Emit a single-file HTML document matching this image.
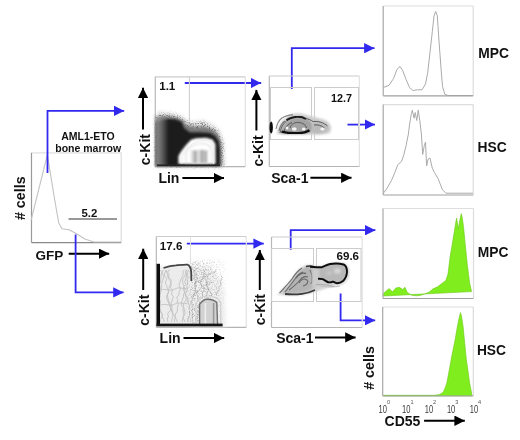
<!DOCTYPE html>
<html><head><meta charset="utf-8">
<style>
html,body{margin:0;padding:0;background:#fff;width:520px;height:440px;overflow:hidden}
svg{display:block;filter:blur(0.5px)}
text{font-family:"Liberation Sans",sans-serif;font-weight:bold;fill:#111}
</style></head><body>
<svg width="520" height="440" viewBox="0 0 520 440">
<defs>
<marker id="bh" viewBox="0 0 10 10" refX="10" refY="5" markerWidth="10.6" markerHeight="10.4" markerUnits="userSpaceOnUse" orient="auto"><path d="M0,0L10,5L0,10z" fill="#3229ef"/></marker>
<marker id="kh" viewBox="0 0 10 10" refX="10" refY="5" markerWidth="10.4" markerHeight="10.4" markerUnits="userSpaceOnUse" orient="auto"><path d="M0,0L10,5L0,10z" fill="#000"/></marker>
<filter id="b1" x="-20%" y="-20%" width="140%" height="140%"><feGaussianBlur stdDeviation="1"/></filter>
<filter id="b06" x="-20%" y="-20%" width="140%" height="140%"><feGaussianBlur stdDeviation="0.6"/></filter>
<filter id="b08" x="-20%" y="-20%" width="140%" height="140%"><feGaussianBlur stdDeviation="0.8"/></filter>
<filter id="b15" x="-20%" y="-20%" width="140%" height="140%"><feGaussianBlur stdDeviation="1.5"/></filter>
<filter id="b2" x="-20%" y="-20%" width="140%" height="140%"><feGaussianBlur stdDeviation="2"/></filter>
<linearGradient id="lg1" x1="0" y1="0" x2="1" y2="0"><stop offset="0" stop-color="#9a9a9a" stop-opacity="0.9"/><stop offset="0.45" stop-color="#8a8a8a" stop-opacity="0.65"/><stop offset="1" stop-color="#888" stop-opacity="0"/></linearGradient>
<filter id="stip" x="-10%" y="-10%" width="120%" height="120%" color-interpolation-filters="sRGB">
<feGaussianBlur in="SourceGraphic" stdDeviation="2" result="sb"/>
<feTurbulence type="fractalNoise" baseFrequency="0.85" numOctaves="2" seed="4" result="n"/>
<feColorMatrix in="n" type="matrix" values="0 0 0 0 0  0 0 0 0 0  0 0 0 0 0  0 0 0 -5 2.6" result="m"/>
<feComposite in="sb" in2="m" operator="in"/>
<feGaussianBlur stdDeviation="0.4"/>
</filter>
<linearGradient id="lg2" x1="0" y1="0" x2="1" y2="0"><stop offset="0" stop-color="#555" stop-opacity="0.36"/><stop offset="0.75" stop-color="#666" stop-opacity="0.24"/><stop offset="1" stop-color="#888" stop-opacity="0"/></linearGradient>
</defs>

<!-- GFP histogram -->
<g fill="none" stroke-width="1.2"><path d="M31.5,152.8H121.2" stroke="#e0e0e0"/><path d="M121.2,152.8V242.6" stroke="#dcdcdc"/><path d="M31.5,152.8V242.6" stroke="#9a9a9a"/><path d="M31.5,242.6H121.2" stroke="#8a8a8a"/></g>
<polyline stroke-linejoin="round" points="31,220.7 47.3,154.8 54,195.7 58.7,223 62,228.7 69,229.8 75.7,233.2 84.8,239 94,242 121,242" fill="none" stroke="#c2c2c2" stroke-width="1.1"/>
<line x1="68.5" y1="219" x2="117" y2="219" stroke="#777" stroke-width="1.5"/>
<text x="89.4" y="217" font-size="11.4" text-anchor="middle">5.2</text>
<text transform="translate(25.2,198.2) rotate(-90)" font-size="14.3" text-anchor="middle">#&#160;cells</text>
<text x="35.4" y="259.7" font-size="13.5">GFP</text>
<line x1="68.7" y1="253.7" x2="109.2" y2="253.7" stroke="#000" stroke-width="2" marker-end="url(#kh)"/>
<text x="88" y="139.6" font-size="10.5" text-anchor="middle">AML1-ETO</text>
<text x="88.2" y="151.7" font-size="10.5" text-anchor="middle">bone marrow</text>

<!-- blue arrows -->
<g fill="none" stroke="#3229ef" stroke-width="1.8">
<polyline points="47.5,173 47.5,110.8 124.2,110.8" marker-end="url(#bh)"/>
<polyline points="75.6,234.5 75.6,292.4 123.6,292.4" marker-end="url(#bh)"/>
<polyline points="184.8,83 261.2,83" marker-end="url(#bh)"/>
<polyline points="291.8,89 291.8,48.2 374.5,48.2" marker-end="url(#bh)"/>
<polyline points="347.5,124.6 375,124.6" marker-end="url(#bh)"/>
<polyline points="186.8,243.6 263.8,243.6" marker-end="url(#bh)"/>
<polyline points="290.7,249.7 290.7,230.2 375.4,230.2" marker-end="url(#bh)"/>
<polyline points="340.6,293.5 340.6,320.3 375.2,320.3" marker-end="url(#bh)"/>
</g>

<!-- top scatter 1 -->
<g fill="none" stroke-width="1.2"><path d="M155.3,76.8H245.3" stroke="#cccccc"/><path d="M245.3,76.8V166.6" stroke="#e2e2e2"/><path d="M155.3,76.8V166.6" stroke="#b8b8b8"/><path d="M155.3,166.6H245.3" stroke="#b4b4b4"/></g>
<!-- blob top scatter 1 -->
<g>
<path d="M156,166 L156,114 161,112.5 172,113.5 181,116.5 187,121 193,122.5 203,121 212,125 219,131 223,142 224,166 Z" fill="#e0e0e0" filter="url(#b2)"/>
<path d="M156,166 L156,115 161,113.5 172,114.5 181,117.5 187,122 193,123.5 203,122 212,126 218.5,132 222.5,142.5 223.5,166 Z" fill="#333" opacity="0.75" filter="url(#stip)"/>
<path d="M156,166 L156,118 163,116 172,116.5 181,119 187,125 195,127 205,126.5 213,129.5 218.5,135 221.5,144 222,166 Z" fill="#7a7a7a" filter="url(#b15)"/>
<path d="M156,166 L156,122 162,120 168,119 176,119.5 181.5,122 184,128 190,132.5 200,132.5 210,133 215,136 218.5,141 219.8,150 219.8,166 Z" fill="#1a1a1a" filter="url(#b1)"/>
<rect x="155.8" y="117" width="13" height="49" fill="url(#lg1)" filter="url(#b1)"/>
<path d="M178.4,164 L178.4,156 181,151.5 186,145 191,139.8 196,138.2 206,137.8 212.5,139.5 215.4,144 215.6,164 Z" fill="#fff" filter="url(#b08)"/>
<path d="M186,164 L186,152 190,147 196,144 205,143.5 210,146 212,152 212,164 Z" fill="none" stroke="#dcdcdc" stroke-width="1.2" filter="url(#b08)"/>
<path d="M182,164 L182,156 186,150 192,144 198,141 206,140.5 211,142.5 213.5,148 213.5,164" fill="none" stroke="#ececec" stroke-width="1" filter="url(#b06)"/>
<rect x="191" y="150" width="17" height="13" fill="#d8d8d8" filter="url(#b1)"/>
<g fill="#999" filter="url(#b08)"><rect x="194.3" y="151" width="1.8" height="12"/><rect x="201" y="150" width="1.8" height="13"/><rect x="204.5" y="151" width="1.6" height="12"/></g>
<line x1="157" y1="165.2" x2="220" y2="165.2" stroke="#222" stroke-width="1.6"/>
</g>
<line x1="189.4" y1="76.8" x2="189.4" y2="121" stroke="#cfcfcf" stroke-width="1.1"/>
<text x="159.2" y="90.2" font-size="11.6">1.1</text>
<text transform="translate(149.7,149.6) rotate(-90)" font-size="14" text-anchor="middle">c-Kit</text>
<line x1="143" y1="129.5" x2="143" y2="87.8" stroke="#000" stroke-width="2" marker-end="url(#kh)"/>
<text x="158.4" y="183" font-size="14">Lin</text>
<line x1="182.4" y1="178.1" x2="224" y2="178.1" stroke="#000" stroke-width="2" marker-end="url(#kh)"/>

<!-- top scatter 2 -->
<g fill="none" stroke-width="1.2"><path d="M269.3,76H359.4" stroke="#cccccc"/><path d="M359.4,76V166.5" stroke="#e2e2e2"/><path d="M269.3,76V166.5" stroke="#b8b8b8"/><path d="M269.3,166.5H359.4" stroke="#b4b4b4"/></g>
<rect x="270.5" y="87.5" width="41" height="52" fill="none" stroke="#ccc" stroke-width="1"/>
<rect x="314.5" y="87.5" width="44" height="52" fill="none" stroke="#ccc" stroke-width="1"/>
<!-- blob top scatter 2 -->
<g>
<path d="M277,134 C277.5,127 282,119 290,115 C295,113 302,113 308,115.5 C314,117 322,118.5 327,121 C331,124 332,129 330,132.5 C327,134.5 320,134.5 312,134.5 Z" fill="#cdcdcd" filter="url(#b1)"/>
<path d="M281,133.5 C282,127 286,121 292,118.5 C298,117 304,117.5 309,120 C312,122 313,127 312,131 C309,134 300,134 290,134 Z" fill="#a2a2a2" filter="url(#b08)"/>
<path d="M313,122 C319,121.5 325,123 328,126.5 C329.5,130 326,133 318,133.5 L312,133 Z" fill="#bababa" filter="url(#b08)"/>
<g fill="none" stroke="#5a5a5a" stroke-width="1" filter="url(#b06)">
<path d="M280,133 C281,126 285,121 290,119"/>
<path d="M284,132 C285,127 288,124 292,122.5"/>
<path d="M290,128 C291,124 295,122 299,122.5 C303,123 306,125 306.5,128"/>
<path d="M305.5,118.5 C308.5,119 311,120 313,121.5 C318,121 324,122.5 327.5,126"/>
<path d="M314,125 C318,124.5 322,125.5 324.5,128"/>
</g>
<g fill="#f4f4f4" filter="url(#b06)"><ellipse cx="294.3" cy="129" rx="2.4" ry="1.8"/><ellipse cx="303.7" cy="129" rx="1.8" ry="1.6"/><ellipse cx="322.5" cy="129" rx="2.2" ry="1.6"/><ellipse cx="287" cy="128" rx="1.5" ry="1.5"/></g>
<path d="M286.5,120.2 C289,118.4 293,117.2 297,116.8 C300.5,116.6 303.5,117.4 306,119" fill="none" stroke="#1a1a1a" stroke-width="2" filter="url(#b06)"/>
<path d="M276,129 C277,124 279,120 282,118 C285,116 289,115 293,114.6" fill="none" stroke="#888" stroke-width="1.1" filter="url(#b06)"/>
<path d="M279,131 C280,126 282,123 285,121" fill="none" stroke="#777" stroke-width="1.1" filter="url(#b06)"/>
<path d="M281.5,131.6 C286,132.8 292,133.4 298,133.2 C302,133 306,132.4 309.5,130.2" fill="none" stroke="#0d0d0d" stroke-width="2.4" filter="url(#b06)"/>
<ellipse cx="271.2" cy="127.5" rx="1.7" ry="6" fill="#111" filter="url(#b06)"/>
</g>
<text x="331" y="102" font-size="11.8" textLength="21" lengthAdjust="spacingAndGlyphs">12.7</text>
<text transform="translate(262.8,151) rotate(-90)" font-size="14" text-anchor="middle">c-Kit</text>
<line x1="256.4" y1="130.5" x2="256.4" y2="89.9" stroke="#000" stroke-width="2" marker-end="url(#kh)"/>
<text x="271.2" y="183.4" font-size="14">Sca-1</text>
<line x1="310.4" y1="177.8" x2="351.5" y2="177.8" stroke="#000" stroke-width="2" marker-end="url(#kh)"/>

<!-- bottom scatter 1 -->
<g fill="none" stroke-width="1.2"><path d="M156.3,236.5H246.3" stroke="#cccccc"/><path d="M246.3,236.5V327.3" stroke="#e2e2e2"/><path d="M156.3,236.5V327.3" stroke="#b8b8b8"/><path d="M156.3,327.3H246.3" stroke="#b4b4b4"/></g>
<!-- blob bottom scatter 1 -->
<g>
<path d="M157,326 L157,266 165,266 176,265 186,265 190,268 191,276 191,282 L218,296 L224,326 Z" fill="#ececec" filter="url(#b1)"/>
<path d="M190,262 L206,266 217,274 224,288 226,326 L190,326 Z" fill="#f0f0f0" filter="url(#b2)"/>
<g fill="none" stroke="#c2c2c2" stroke-width="0.9" filter="url(#b06)">
<path d="M160.7,322.0 Q158.5,319.8 161.5,317.5 Q163.3,315.4 161.7,313.3 Q160.6,310.8 160.0,308.2 Q158.2,305.5 160.0,302.7 Q158.1,300.1 160.0,297.4 Q159.0,295.3 160.0,293.1 Q161.6,289.9 160.0,286.7 Q158.4,284.3 160.6,282.0 Q161.0,278.6 161.0,275.1 Q161.7,272.6 163.4,270.0"/>
<path d="M164.2,322.0 Q163.8,319.2 162.0,316.4 Q163.3,314.3 160.5,312.2 Q158.8,309.2 160.2,306.1 Q160.1,303.7 160.6,301.2 Q158.3,298.5 160.0,295.8 Q160.8,292.6 161.0,289.5 Q162.3,287.1 161.4,284.7 Q161.7,281.9 163.2,279.1 Q165.1,276.0 162.2,273.0 Q161.3,271.5 160.3,270.0"/>
<path d="M168.1,322.0 Q166.2,319.1 168.5,316.2 Q166.3,313.5 170.2,310.8 Q171.6,307.4 170.1,304.0 Q168.2,301.0 167.9,298.0 Q166.6,295.0 168.6,291.9 Q168.1,288.4 170.2,284.9 Q172.1,282.5 169.7,280.1 Q167.6,277.1 167.3,274.1 Q167.0,272.0 165.6,270.0"/>
<path d="M171.3,322.0 Q172.2,318.7 172.9,315.3 Q173.0,312.1 171.8,308.8 Q172.4,306.1 171.1,303.5 Q171.9,300.2 173.4,296.9 Q171.1,294.6 171.7,292.4 Q173.7,290.1 170.4,287.7 Q171.8,285.0 170.8,282.3 Q172.7,279.9 168.4,277.5 Q169.9,274.8 167.7,272.2 Q167.2,271.1 170.0,270.0"/>
<path d="M174.4,322.0 Q174.3,319.8 175.1,317.7 Q175.0,315.6 172.9,313.5 Q170.9,311.2 171.3,308.9 Q169.3,306.4 169.0,303.9 Q168.2,301.9 167.3,299.9 Q166.1,297.7 166.6,295.6 Q168.2,293.5 168.5,291.5 Q166.8,288.6 166.7,285.6 Q164.3,283.3 165.9,280.9 Q168.2,278.3 164.1,275.8 Q164.2,272.9 166.5,270.0"/>
<path d="M177.4,322.0 Q176.1,319.2 175.1,316.4 Q175.2,313.6 177.5,310.8 Q176.7,307.5 178.4,304.2 Q176.1,301.8 177.8,299.4 Q175.4,297.2 179.1,294.9 Q178.0,292.1 180.5,289.3 Q179.3,286.8 179.1,284.3 Q180.1,281.1 181.6,277.9 Q183.9,274.6 183.1,271.3 Q182.8,270.7 184.3,270.0"/>
<path d="M182.1,322.0 Q182.0,318.5 184.4,315.0 Q182.8,312.5 183.0,309.9 Q184.4,307.6 181.5,305.3 Q180.6,303.0 182.1,300.6 Q183.6,297.3 183.8,293.9 Q186.1,291.2 184.5,288.5 Q184.0,285.3 182.5,282.1 Q182.0,279.1 184.5,276.1 Q186.8,273.1 185.8,270.0"/>
<path d="M185.2,322.0 Q183.7,319.7 183.3,317.5 Q182.1,315.3 185.3,313.0 Q184.3,309.8 183.6,306.6 Q182.3,303.4 186.0,300.1 Q186.4,297.2 185.2,294.2 Q184.0,291.3 183.4,288.5 Q183.0,286.5 185.7,284.5 Q183.9,281.5 185.8,278.5 Q187.9,275.1 185.5,271.7 Q184.8,270.9 187.1,270.0"/>
<path d="M188.1,322.0 Q186.2,319.1 189.5,316.2 Q189.8,313.6 189.5,311.0 Q188.2,308.2 189.5,305.5 Q188.4,302.7 187.1,299.9 Q188.5,297.3 185.5,294.6 Q185.5,292.6 187.0,290.6 Q187.3,288.3 186.9,286.1 Q188.2,283.0 187.2,279.9 Q189.2,277.4 187.2,274.9 Q187.0,272.5 188.7,270.0"/>
<path d="M192.2,322.0 Q193.1,319.2 192.3,316.5 Q193.7,313.4 192.0,310.4 Q194.0,307.6 191.9,304.8 Q190.2,301.4 192.9,298.0 Q194.0,294.7 195.1,291.4 Q195.9,289.0 195.4,286.6 Q193.7,283.2 197.1,279.7 Q199.1,277.5 195.3,275.3 Q197.6,272.7 193.1,270.0 Q191.7,268.0 191.0,266.0"/>
<path d="M197.9,322.0 Q195.9,319.4 197.8,316.8 Q196.7,313.3 199.5,309.8 Q197.2,307.6 199.2,305.4 Q200.6,302.6 198.4,299.8 Q197.2,297.5 197.4,295.2 Q195.6,292.1 195.0,289.1 Q194.7,286.2 194.7,283.4 Q196.8,281.4 193.9,279.3 Q195.5,276.4 194.0,273.5 Q192.8,271.4 196.4,269.3 Q194.6,268.6 198.8,268.0"/>
<path d="M202.8,296.0 Q200.8,293.1 203.8,290.3 Q205.6,288.2 201.6,286.0 Q199.5,283.0 201.3,280.0 Q203.1,277.8 203.4,275.7 Q203.2,272.9 205.0,270.0"/>
<path d="M206.7,296.0 Q205.7,293.2 208.8,290.3 Q207.8,287.9 207.0,285.5 Q208.3,282.7 205.6,280.0 Q204.6,277.8 204.0,275.6 Q204.0,273.8 202.5,272.0"/>
<path d="M211.4,296.0 Q213.0,293.5 208.9,291.0 Q208.6,288.6 206.5,286.2 Q206.5,283.1 206.8,280.0 Q208.5,277.7 206.7,275.4 Q206.1,274.7 204.7,274.0"/>
<path d="M217.0,296.0 Q214.8,293.0 219.4,289.9 Q217.6,287.4 221.1,284.9 Q218.9,281.8 221.8,278.8 Q223.0,277.4 221.0,276.0"/>
<path d="M161,290 C166,288 170,292 175,289 C180,286 183,290 188,288"/>
<path d="M161,305 C166,303 170,307 175,304 C180,301 183,305 188,303"/>
<path d="M192,296 C196,292 199,292 201,288 C204,284 208,286 212,282"/>
<path d="M194,284 C198,280 202,281 206,276 C209,272 213,274 216,271"/>
</g>
<rect x="189" y="261" width="38" height="63" fill="url(#lg2)" filter="url(#stip)"/>
<line x1="163" y1="270.8" x2="189" y2="270.8" stroke="#c4c4c4" stroke-width="1.2" stroke-dasharray="1.5 1.5" filter="url(#b06)"/>
<path d="M199.6,326 L199.6,304.4 C202,301 205,299.3 207.4,299.3 C211,299.3 214.5,300.5 216.8,302.6 L217.6,326 Z" fill="#d2d2d2" filter="url(#b06)"/>
<path d="M199.6,326 L199.6,304.4 C202,301 205,299.3 207.4,299.3 C211,299.3 214.5,300.5 216.8,302.6 L217.6,326" fill="none" stroke="#707070" stroke-width="1.4" filter="url(#b06)"/>
<path d="M196,326 L196,303 C199,298 204,296 208,296 C213,296 218,298 220.5,302 L221,326" fill="none" stroke="#d0d0d0" stroke-width="1.2" filter="url(#b06)"/>
<g filter="url(#b06)"><rect x="204.6" y="303" width="1.5" height="21" fill="#eee"/><rect x="212.8" y="303" width="1.6" height="21" fill="#999"/></g>
<path d="M163.5,268 C168,266.5 172,265.6 176,265.4 C180,265 184,264.5 187,264.6 C189.5,265 190.8,267 191.2,272 L191.4,281" fill="none" stroke="#444" stroke-width="1.8" filter="url(#b06)"/>
<rect x="156.6" y="263.8" width="3.4" height="62.2" fill="#111" filter="url(#b06)"/>
<rect x="156.6" y="323.6" width="66" height="2.8" fill="#151515" filter="url(#b06)"/>
</g>
<line x1="190.5" y1="237" x2="190.5" y2="264" stroke="#e2e2e2" stroke-width="1"/>
<text x="159.8" y="250.2" font-size="11.6">17.6</text>
<text transform="translate(149.3,310.2) rotate(-90)" font-size="14" text-anchor="middle">c-Kit</text>
<line x1="143.2" y1="290" x2="143.2" y2="248.7" stroke="#000" stroke-width="2" marker-end="url(#kh)"/>
<text x="159.6" y="343.4" font-size="14">Lin</text>
<line x1="183.5" y1="338" x2="224.2" y2="338" stroke="#000" stroke-width="2" marker-end="url(#kh)"/>

<!-- bottom scatter 2 -->
<g fill="none" stroke-width="1.2"><path d="M271.5,237H362.2" stroke="#cccccc"/><path d="M362.2,237V327.5" stroke="#e2e2e2"/><path d="M271.5,237V327.5" stroke="#b8b8b8"/><path d="M271.5,327.5H362.2" stroke="#b4b4b4"/></g>
<rect x="271.5" y="248.5" width="42" height="53" fill="none" stroke="#ccc" stroke-width="1"/>
<rect x="316.5" y="248.5" width="44.5" height="53" fill="none" stroke="#ccc" stroke-width="1"/>
<!-- blob bottom scatter 2 -->
<g>
<path d="M277.5,294.5 C281,290 284,287 287.3,284.7 C290,281 293,277 295.5,273.4 C297,271 299,269.5 300.6,268.3 C302.5,266.8 304,265.6 305.7,265.2 C308,264.6 310,264.5 313,265.5 L320,266.5 C326,264 335,262 343,262.5 C348,264 350,269 349,275 C348,281 344,285 337,285.5 L330,287 C325,289 318,291 312,293 C303,295.5 290,296.5 277.5,294.5 Z" fill="#d2d2d2" filter="url(#b1)"/>
<path d="M282,293 C287,288 291,283 295,277 C298,272 302,268.5 306,267 C310,266 313,266.5 316,268 L319,280 C317,286 312,290 305,292 C297,293.5 289,294 282,293 Z" fill="#b4b4b4" filter="url(#b1)"/>
<g fill="none" stroke="#6a6a6a" stroke-width="1.1" filter="url(#b06)">
<path d="M279.5,293 C284,288 288,284 292,279 C295,274 298,270.5 302,268"/>
<path d="M285,292 C289,287 292,283 295,279 C297,276 300,273 303,272"/>
<path d="M289,290 C293,287 297,284 300,280 C302,277 305,276 308,277"/>
<path d="M299,283 C301,279 304,278 307,280 C309,282 307,285 303,286"/>
<path d="M310,270 C312,274 313,279 311,284"/>
</g>
<path d="M285,294 C291,294.6 297,294.4 302,293.8 C307,293.2 311,292 315,290" fill="none" stroke="#3a3a3a" stroke-width="1.8" filter="url(#b06)"/>
<path d="M318,285.5 C324,287 332,287.5 340,286" fill="none" stroke="#c0c0c0" stroke-width="1.2" filter="url(#b06)"/>
<path d="M296,278 C299,274 303,272.5 306,273.5" fill="none" stroke="#666" stroke-width="1.4" filter="url(#b06)"/>
<path d="M306,266.6 C309,265.7 312,266 314.5,267.2" fill="none" stroke="#333" stroke-width="1.6" filter="url(#b06)"/>
<path d="M310,266.8 C314,267 318,267.5 322,267.2 C325,266 327,264.8 330,264 C334,263.3 339,263.2 343.6,264.5 C346,265.5 347,268.5 347,272 C346.8,275.5 345.5,278.5 343,281 C341,282.6 339,283.3 337,283.2 C335,283 334,281.8 333,281.6 C331.5,282.3 330,282.6 328.2,282.3 C326.5,281.6 325,280.3 322.7,279.2 C321,278.8 319.5,278.7 318,278.8 L316,275 Z" fill="#b8b8b8" filter="url(#b06)"/>
<path d="M312,269 L319,268 L320,285 L312,288 Z" fill="#cccccc" filter="url(#b1)"/>
<ellipse cx="337.3" cy="271" rx="3.5" ry="2.8" fill="#d6d6d6" filter="url(#b08)"/>
<ellipse cx="329" cy="273" rx="3" ry="2.2" fill="#c4c4c4" filter="url(#b08)"/>
<path d="M310,266.8 C314,267 318,267.5 322,267.2 C325,266 327,264.8 330,264 C334,263.3 339,263.2 343.6,264.5 C346,265.5 347,268.5 347,272 C346.8,275.5 345.5,278.5 343,281 C341,282.6 339,283.3 337,283.2 C335,283 334,281.8 333,281.6 C331.5,282.3 330,282.6 328.2,282.3 C326.5,281.6 325,280.3 322.7,279.2 C321,278.8 319.5,278.7 318,278.8" fill="none" stroke="#0d0d0d" stroke-width="1.9" filter="url(#b06)"/>
<path d="M316,284.5 C322,284 328,285 334,286.5" fill="none" stroke="#aaa" stroke-width="1" filter="url(#b06)"/>
</g>
<text x="336.5" y="260" font-size="11.6">69.6</text>
<text transform="translate(265.4,309.6) rotate(-90)" font-size="14" text-anchor="middle">c-Kit</text>
<line x1="259.8" y1="290" x2="259.8" y2="250" stroke="#000" stroke-width="2" marker-end="url(#kh)"/>
<text x="276.2" y="343" font-size="14">Sca-1</text>
<line x1="315" y1="337.4" x2="355.6" y2="337.4" stroke="#000" stroke-width="2" marker-end="url(#kh)"/>


<!-- histogram curves -->
<polyline points="383.4,87.5 389.1,85.2 393.6,78.4 397,69.3 400,66.4 402.7,70.5 406.1,79.5 409.5,87.5 413,90.5 417.5,89.8 422,89.8 425.5,84 427.7,72.7 430,52.3 432.3,31.8 434,15.9 435.7,11.4 437.3,15.9 439,41 441,68.2 442.5,86.4 444.8,94.3 448,95.5 473,95.5" fill="none" stroke="#aaa" stroke-width="1"/>
<polyline points="383.4,193.2 386.8,188.6 391.4,180.7 394.8,172.7 397.7,164.8 401.6,161.4 403.9,154.5 406.1,145.5 408.4,134 409.5,125 411.4,113.6 412.3,110.2 414.1,118.2 415.2,112.5 416.8,120.5 418.2,110.2 419.8,120.5 421.4,134 422.7,154.5 424.3,145.5 425.5,142 426.6,166 428.2,159 430,158 432.3,168.2 434.5,172.7 438,178.4 440.2,184 442.5,189.8 445.9,193.2 473,193.2" fill="none" stroke="#aaa" stroke-width="1"/>
<path d="M383.4,296 L383.4,293.6 385.7,291.4 389.1,288.6 392.5,291.8 395.9,288 399.3,287.3 402.7,289.5 405,287.3 407.3,292.5 411.8,295.2 416.4,295.8 420.9,295.2 424.3,294 428.9,292.3 433.4,288.6 437.2,287.1 441.5,283.8 445.8,280.6 448,274.1 450.1,256.8 452.3,243.9 454.4,230.9 455.5,224 456.6,218 458.3,228.8 459.8,220 461.3,213.6 462.3,218 463.5,226.6 465.2,243.9 467.4,265.5 469.6,282.8 471.3,290.3 471.6,291.6 Z" fill="#80ee1e" stroke="#6cc818" stroke-width="0.6"/>
<path d="M383.4,395.8 L383.4,395.3 434.5,395.3 439.3,394.6 441.5,393.5 443.6,391.4 445.3,387.5 446.9,382.8 448.5,374 450.1,365.5 451.8,356 453.4,348.2 454.5,343 455.5,337.4 457.3,327 459.1,318 460.5,312.6 461.5,316 463.1,326.6 464.7,343 466.3,359 468,371 469.6,382.8 471.7,393.6 472.3,395.8 Z" fill="#80ee1e" stroke="#6cc818" stroke-width="0.6"/>
<!-- right histograms -->
<g fill="none" stroke-width="1.2"><path d="M383.2,6H473.2" stroke="#dedede"/><path d="M473.2,6V95.8" stroke="#dcdcdc"/><path d="M383.2,6V95.8" stroke="#a8a8a8"/><path d="M383.2,95.8H473.2" stroke="#a0a0a0"/></g>
<g fill="none" stroke-width="1.2"><path d="M383.2,104.6H473.2" stroke="#dedede"/><path d="M473.2,104.6V195" stroke="#dcdcdc"/><path d="M383.2,104.6V195" stroke="#a8a8a8"/><path d="M383.2,195H473.2" stroke="#a0a0a0"/></g>
<g fill="none" stroke-width="1.2"><path d="M383,208.5H473.5" stroke="#dedede"/><path d="M473.5,208.5V298.5" stroke="#dcdcdc"/><path d="M383,208.5V298.5" stroke="#a8a8a8"/><path d="M383,298.5H473.5" stroke="#a0a0a0"/></g>
<g fill="none" stroke-width="1.2"><path d="M382.7,307H473.3" stroke="#dedede"/><path d="M473.3,307V396" stroke="#dcdcdc"/><path d="M382.7,307V396" stroke="#a8a8a8"/><path d="M382.7,396H473.3" stroke="#a0a0a0"/></g>
<text x="478.2" y="58.3" font-size="13.8">MPC</text>
<text x="477.5" y="152.2" font-size="13.8">HSC</text>
<text x="477.8" y="257.2" font-size="13.8">MPC</text>
<text x="476.9" y="355.2" font-size="13.8">HSC</text>
<text transform="translate(373.7,368) rotate(-90)" font-size="14.3" text-anchor="middle">#&#160;cells</text>
<g font-weight="normal" style="font-weight:normal">
<text x="378.5" y="412.6" font-size="10.2" textLength="8.4" lengthAdjust="spacingAndGlyphs" style="font-weight:normal;fill:#383838">10</text><text x="386.9" y="404.2" font-size="5.6" style="font-weight:normal;fill:#555">0</text>
<text x="402.0" y="412.6" font-size="10.2" textLength="8.4" lengthAdjust="spacingAndGlyphs" style="font-weight:normal;fill:#383838">10</text><text x="410.4" y="404.2" font-size="5.6" style="font-weight:normal;fill:#555">1</text>
<text x="424.7" y="412.6" font-size="10.2" textLength="8.4" lengthAdjust="spacingAndGlyphs" style="font-weight:normal;fill:#383838">10</text><text x="433.1" y="404.2" font-size="5.6" style="font-weight:normal;fill:#555">2</text>
<text x="446.9" y="412.6" font-size="10.2" textLength="8.4" lengthAdjust="spacingAndGlyphs" style="font-weight:normal;fill:#383838">10</text><text x="455.3" y="404.2" font-size="5.6" style="font-weight:normal;fill:#555">3</text>
<text x="469.7" y="412.6" font-size="10.2" textLength="8.4" lengthAdjust="spacingAndGlyphs" style="font-weight:normal;fill:#383838">10</text><text x="478.1" y="404.2" font-size="5.6" style="font-weight:normal;fill:#555">4</text>
</g>
<text x="384.6" y="426.4" font-size="14">CD55</text>
<line x1="424.1" y1="420.7" x2="464.8" y2="420.7" stroke="#000" stroke-width="2" marker-end="url(#kh)"/>
</svg>
</body></html>
